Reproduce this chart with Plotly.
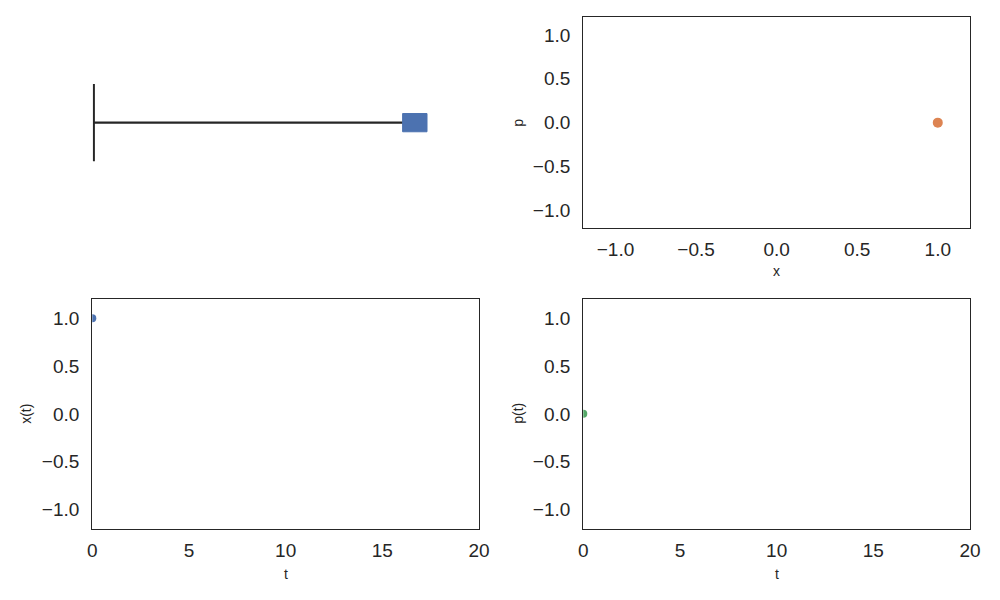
import plotly.graph_objects as go

# ---- data ----
x0 = [1.0]          # position of the mass
p0 = [0.0]          # momentum
t0 = [0.0]          # time
wall_x = [0.0, 0.0]
wall_y = [-0.44, 0.44]

xticks = [-1.0, -0.5, 0.0, 0.5, 1.0]
tticks = [0, 5, 10, 15, 20]

BLUE = "#4C72B0"
ORANGE = "#DD8452"
GREEN = "#55A868"
INK = "#262626"
FONT = "Liberation Sans, Arial, sans-serif"

W, H, OFF = 984, 584, 8


def px(X):
    return (X - OFF) / W


def py(Y):
    return 1 - (Y - OFF) / H


fig = go.Figure()

# ---- top-left: spring / mass cartoon ----
fig.add_trace(go.Scatter(x=wall_x, y=wall_y, mode="lines",
                         line=dict(color=INK, width=2), xaxis="x", yaxis="y",
                         showlegend=False, hoverinfo="skip"))
fig.add_trace(go.Scatter(x=[wall_x[0], x0[0]], y=[0, 0], mode="lines",
                         line=dict(color=INK, width=2.2), xaxis="x", yaxis="y",
                         showlegend=False, hoverinfo="skip"))
hw, hh = 0.038, 0.104
fig.add_trace(go.Scatter(x=[x0[0] - hw, x0[0] + hw, x0[0] + hw, x0[0] - hw, x0[0] - hw],
                         y=[p0[0] - hh, p0[0] - hh, p0[0] + hh, p0[0] + hh, p0[0] - hh],
                         mode="lines", fill="toself", fillcolor=BLUE,
                         line=dict(color=BLUE, width=1), xaxis="x", yaxis="y",
                         showlegend=False, hoverinfo="skip"))

# ---- top-right: phase space ----
fig.add_trace(go.Scatter(x=x0, y=p0, mode="markers",
                         marker=dict(color=ORANGE, size=10, line=dict(width=0)),
                         xaxis="x2", yaxis="y2", showlegend=False))

# ---- bottom-left: x(t) ----
fig.add_trace(go.Scatter(x=t0, y=x0, mode="markers",
                         marker=dict(color=BLUE, size=8, line=dict(width=0)),
                         xaxis="x3", yaxis="y3", showlegend=False))

# ---- bottom-right: p(t) ----
fig.add_trace(go.Scatter(x=t0, y=p0, mode="markers",
                         marker=dict(color=GREEN, size=8, line=dict(width=0)),
                         xaxis="x4", yaxis="y4", showlegend=False))

box = dict(showline=True, mirror=True, linecolor=INK, linewidth=1.4,
           showgrid=False, zeroline=False, ticks="", automargin=False,
           tickfont=dict(family=FONT, size=19, color=INK), fixedrange=True)

L = [px(92.3), px(479)]
R = [px(583.3), px(970)]
TOP = [py(228), py(17.3)]
BOT = [py(528.7), py(299)]

fig.update_layout(
    template="none",
    width=W, height=H,
    margin=dict(l=0, r=0, t=0, b=0, pad=0, autoexpand=False),
    paper_bgcolor="white", plot_bgcolor="white",
    font=dict(family=FONT, color=INK),
    xaxis=dict(domain=L, range=[-0.005, 1.2], visible=False, fixedrange=True,
               automargin=False),
    yaxis=dict(domain=TOP, range=[-1.2, 1.2], visible=False, fixedrange=True,
               automargin=False),
    xaxis2=dict(domain=R, range=[-1.2, 1.2], anchor="y2", tickvals=xticks,
                tickformat=".1f", ticklabelstandoff=4, **box),
    yaxis2=dict(domain=TOP, range=[-1.2, 1.2], anchor="x2", tickvals=xticks,
                tickformat=".1f", ticklabelstandoff=8, **box),
    xaxis3=dict(domain=L, range=[0, 20], anchor="y3", tickvals=tticks,
                ticklabelstandoff=4, **box),
    yaxis3=dict(domain=BOT, range=[-1.2, 1.2], anchor="x3", tickvals=xticks,
                tickformat=".1f", ticklabelstandoff=8, **box),
    xaxis4=dict(domain=R, range=[0, 20], anchor="y4", tickvals=tticks,
                ticklabelstandoff=4, **box),
    yaxis4=dict(domain=BOT, range=[-1.2, 1.2], anchor="x4", tickvals=xticks,
                tickformat=".1f", ticklabelstandoff=8, **box),
)

lab = dict(xref="paper", yref="paper", showarrow=False,
           xanchor="center", yanchor="middle",
           font=dict(family=FONT, size=14, color=INK))
fig.add_annotation(text="x", x=(R[0] + R[1]) / 2, y=py(271), **lab)
fig.add_annotation(text="p", x=px(518), y=py(122.7), textangle=-90, **lab)
fig.add_annotation(text="t", x=(L[0] + L[1]) / 2, y=py(574), **lab)
fig.add_annotation(text="x(t)", x=px(26), y=py(413.8), textangle=-90, **lab)
fig.add_annotation(text="t", x=(R[0] + R[1]) / 2, y=py(574), **lab)
fig.add_annotation(text="p(t)", x=px(518), y=py(413.8), textangle=-90, **lab)

fig.write_html("out.html")
